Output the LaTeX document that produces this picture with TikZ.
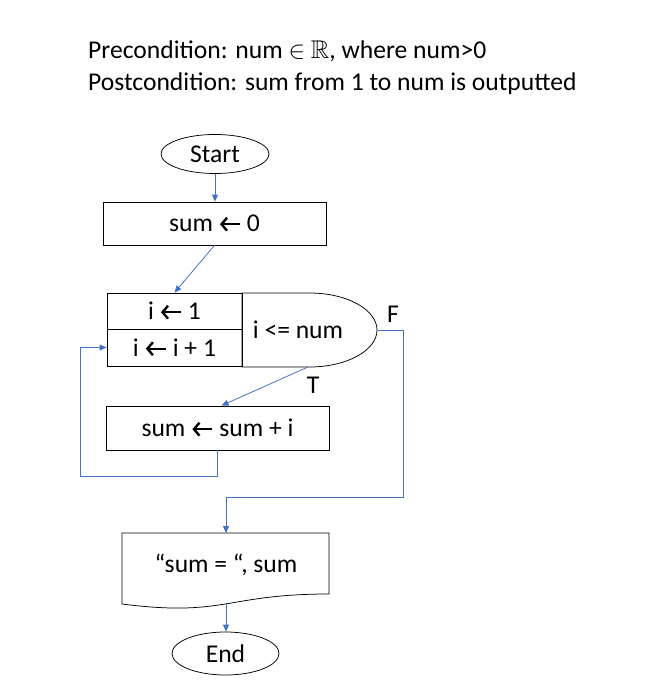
\documentclass[tikz,border=0pt]{standalone}
\usepackage{amssymb}
\usepackage{fontspec}
\setmainfont{Carlito}
\usetikzlibrary{shapes.geometric,arrows.meta}

\definecolor{flowblue}{RGB}{68,114,196}

\newcommand{\getsarrow}{\tikz[baseline={(0,-7.5pt)},x=1pt,y=1pt] \draw[line width=2.4pt,-{Straight Barb[length=5.5pt,width=13pt]}] (20,0) -- (0,0);}

\tikzset{
  heading/.style={anchor=base west, inner sep=0pt, font=\fontsize{25.6}{32}\selectfont},
  txt/.style={inner sep=0pt, font=\fontsize{25.6}{31}\selectfont},
  box/.style={draw=black, line width=0.75pt, inner sep=0pt, font=\fontsize{25.6}{31}\selectfont},
  term/.style={ellipse, draw=black, line width=0.75pt, inner sep=0pt, font=\fontsize{25.6}{31}\selectfont},
  flow/.style={draw=flowblue, line width=0.8pt, -{Triangle[length=7pt,width=6pt]}}
}

\begin{document}
\begin{tikzpicture}[x=1pt, y=-1pt]
\useasboundingbox (0,0) rectangle (663,700);

% Conditions
\node[heading] (pre) at (88,59) {Precondition: num $\in$ $\mathbb{R}$, where num>0};
\node[heading] (post) at (88,91) {Postcondition: sum from 1 to num is outputted};

% Terminals
\node[term, minimum width=108pt, minimum height=39pt] (start) at (215,154) {Start};
\node[term, minimum width=107pt, minimum height=43pt] (end) at (225.5,653.5) {End};

% Processes
\node[box, minimum width=223pt, minimum height=43pt] (init) at (214.5,223.5) {sum \getsarrow{} 0};
\node[box, minimum width=135pt, minimum height=36pt] (first) at (174.5,311) {i \getsarrow{} 1};
\node[box, minimum width=135pt, minimum height=37pt] (next) at (174.5,347.5) {i \getsarrow{} i + 1};
\node[box, minimum width=223pt, minimum height=44pt] (add) at (217.5,428) {sum \getsarrow{} sum + i};

% Loop test
\draw[black, line width=0.75pt] (242,293) -- (309.5,293) arc[start angle=-90, end angle=90, x radius=67.5, y radius=37] -- (242,367) -- cycle;
\node[txt] (test) at (298,330) {i <= num};
\coordinate (testE) at (377,330);
\coordinate (testS) at (308,367);

% Output
\draw[black, line width=0.75pt] (122,533) -- (329,533) -- (329,594) .. controls (225.5,594) and (225.5,617.2) .. (122,604) -- cycle;
\node[txt] (out) at (226,565) {“sum = “, sum};
\coordinate (outN) at (226,533);
\coordinate (outS) at (226,604);

% Labels
\node[txt] (tF) at (393,314) {F};
\node[txt] (tT) at (313,385) {T};

% Connectors
\draw[flow] (start.south) -- (start.south |- init.north);
\draw[flow] (init.south) -- (first.north);
\draw[flow] (testS) -- ([xshift=4pt]add.north);
\draw[flow] (testE) -- ++(26,0) -- ++(0,167) -| (outN);
\draw[flow] (add.south) -- ++(0,26) -| ([xshift=-26pt]next.west) -- (next.west);
\draw[flow] (outS) -- (outS |- end.north);
\end{tikzpicture}
\end{document}
